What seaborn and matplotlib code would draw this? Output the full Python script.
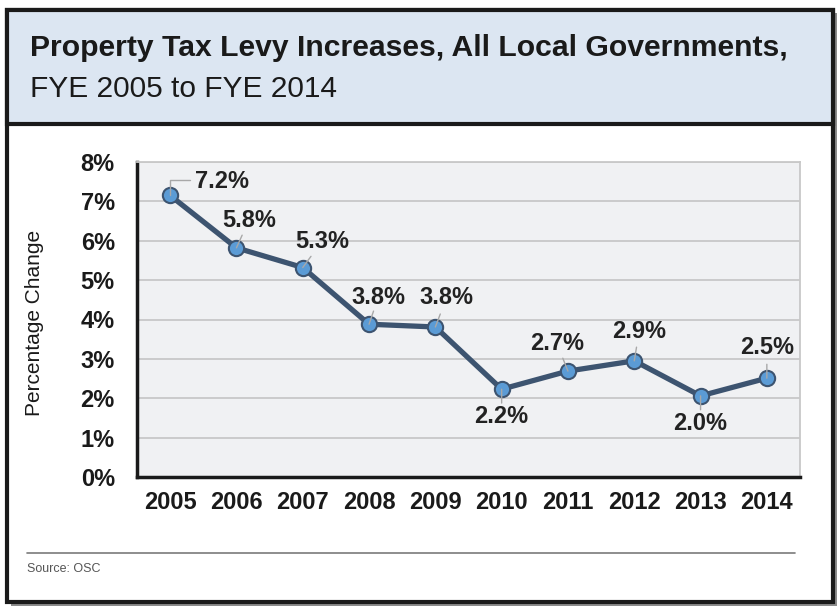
import numpy as np
import pandas as pd
import seaborn as sns
import matplotlib.pyplot as plt
from matplotlib.patches import Rectangle
from matplotlib.lines import Line2D

years = ["2005", "2006", "2007", "2008", "2009", "2010", "2011", "2012", "2013", "2014"]
levy_change = [7.15, 5.82, 5.32, 3.88, 3.81, 2.23, 2.69, 2.95, 2.06, 2.51]
point_labels = ["7.2%", "5.8%", "5.3%", "3.8%", "3.8%", "2.2%", "2.7%", "2.9%", "2.0%", "2.5%"]
y_ticks = [0, 1, 2, 3, 4, 5, 6, 7, 8]

# label offsets in points (dx, dy)
label_offsets = [(37, 10), (9, 20), (14, 19), (6.5, 19), (8, 21),
                 (0, -20), (-8, 20), (3.5, 21), (0, -20), (0, 22)]

W, H = 838, 607
sns.set_theme(style="white")
plt.rcParams["font.family"] = ["Liberation Sans", "DejaVu Sans"]

fig = plt.figure(figsize=(W / 100, H / 100), dpi=100)


def fx(px):
    return px / W


def fy(py):
    return 1 - py / H


# -----------------------------
# frame, shadow and title box
# -----------------------------
fig.add_artist(Rectangle((fx(11), fy(606)), fx(826), fy(13) - fy(606), transform=fig.transFigure,
                         facecolor="#8c8c8c", edgecolor="none", zorder=0))
fig.add_artist(Rectangle((fx(7), fy(602)), fx(826), fy(10) - fy(602), transform=fig.transFigure,
                         facecolor="white", edgecolor="#1a1a1a", linewidth=3, zorder=1))
fig.add_artist(Rectangle((fx(7), fy(124)), fx(826), fy(10) - fy(124), transform=fig.transFigure,
                         facecolor="#dce6f2", edgecolor="#1a1a1a", linewidth=3, zorder=2))

fig.text(fx(30), fy(48), "Property Tax Levy Increases, All Local Governments,",
         fontsize=21.7, fontweight="bold", color="#1a1a1a", va="center", ha="left", zorder=3)
fig.text(fx(30), fy(89), "FYE 2005 to FYE 2014",
         fontsize=21.5, color="#1a1a1a", va="center", ha="left", zorder=3)

# -----------------------------
# line chart
# -----------------------------
df = pd.DataFrame({"year": years, "change": levy_change})
df["pos"] = np.arange(len(years))

ax = fig.add_axes([fx(137), fy(477), fx(800) - fx(137), fy(162) - fy(477)])
ax.set_zorder(3)
ax.set_facecolor("#f0f1f3")

sns.lineplot(data=df, x="pos", y="change", ax=ax, color="#3d5470", linewidth=3.8,
             marker="o", markersize=11, markerfacecolor="#5b9bd5",
             markeredgecolor="#3d5470", markeredgewidth=1.5, zorder=4)

for i, (val, lab) in enumerate(zip(levy_change, point_labels)):
    dx, dy = label_offsets[i]
    ax.annotate(lab, (i, val), xytext=(dx, dy), textcoords="offset points",
                ha="center", va="center", fontsize=17, fontweight="bold", color="#222222",
                zorder=6)
    if i == 0:
        # elbow leader: up from the point, then right toward the label
        ax.annotate("", (i, val), xytext=(14, 11), textcoords="offset points",
                    arrowprops=dict(arrowstyle="-", color="#a8a8a8", lw=1.0,
                                    connectionstyle="angle,angleA=180,angleB=90,rad=0",
                                    shrinkA=0, shrinkB=0), zorder=5)
        continue
    # short leader line from the point toward the label
    n = np.hypot(dx, dy)
    ux, uy = dx / n, dy / n
    ax.annotate("", (i, val), xytext=(ux * 10, uy * 10), textcoords="offset points",
                arrowprops=dict(arrowstyle="-", color="#a8a8a8", lw=1.0,
                                shrinkA=0, shrinkB=0), zorder=5)

ax.set_xlim(-0.5, len(years) - 0.5)
ax.set_ylim(0, 8)
ax.set_yticks(y_ticks)
ax.set_yticklabels([f"{t}%" for t in y_ticks], fontsize=17, fontweight="bold", color="#1a1a1a")
ax.set_xticks(df["pos"])
ax.set_xticklabels(years, fontsize=17, fontweight="bold", color="#1a1a1a")
ax.tick_params(axis="both", length=0)
ax.tick_params(axis="x", pad=10)
ax.tick_params(axis="y", pad=16)
ax.grid(axis="y", color="#c8c8c8", linewidth=1.3)
ax.set_axisbelow(True)
ax.set_xlabel("")
ax.set_ylabel("Percentage Change", fontsize=15, color="#1a1a1a")
ax.yaxis.set_label_coords(-0.140, 0.49)

for side in ["top", "right"]:
    ax.spines[side].set_color("#c8c8c8")
    ax.spines[side].set_linewidth(1.3)
for side in ["left", "bottom"]:
    ax.spines[side].set_color("#1a1a1a")
    ax.spines[side].set_linewidth(2.5)

# -----------------------------
# source note
# -----------------------------
fig.add_artist(Line2D([fx(27), fx(795)], [fy(553), fy(553)], transform=fig.transFigure,
                      color="#7a7a7a", linewidth=1.2, zorder=3))
fig.text(fx(27), fy(569), "Source: OSC", fontsize=9, color="#555555",
         va="center", ha="left", zorder=3)

fig.savefig("out.png", dpi=100)
